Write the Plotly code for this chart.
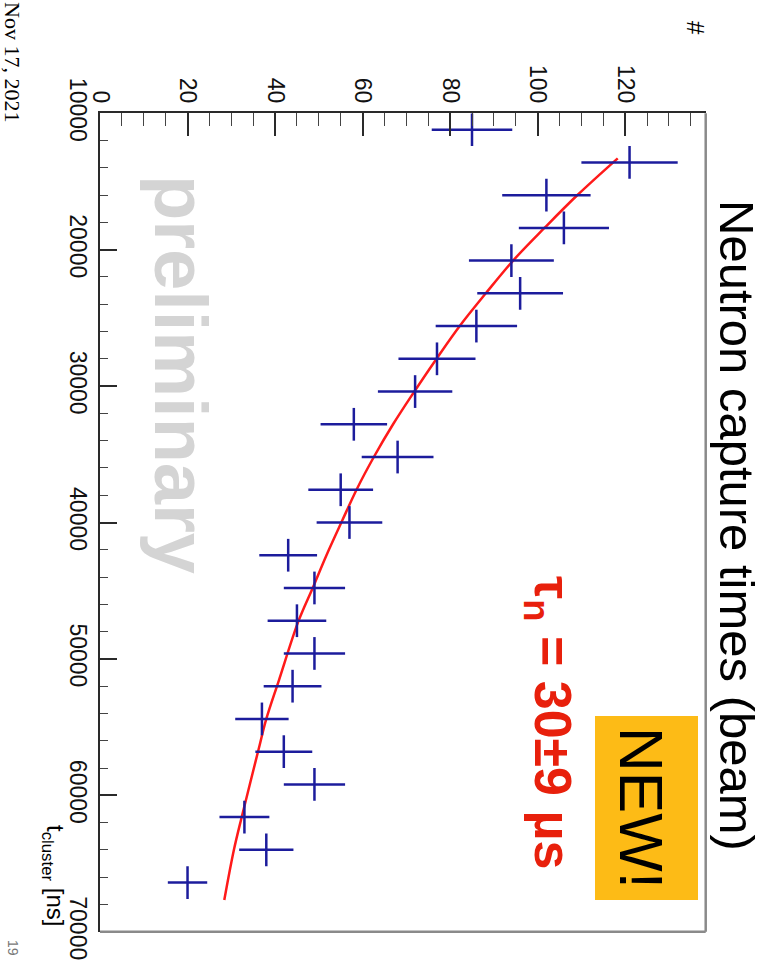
import plotly.graph_objects as go

# ---- data read from the (rotated) reference ----
t_cluster_ns = [11200, 13600, 16000, 18400, 20800, 23200, 25600, 28000, 30400, 32800,
                35200, 37600, 40000, 42400, 44800, 47200, 49600, 52000, 54400, 56800,
                59200, 61600, 64000, 66400]
counts = [85, 121, 102, 106, 94, 96, 86, 77, 72, 58, 68, 55, 57, 43, 49, 45, 49, 44, 37, 42,
          49, 33, 38, 20]
count_err = [9.2, 11.0, 10.1, 10.3, 9.7, 9.8, 9.3, 8.8, 8.5, 7.6, 8.2, 7.4, 7.5, 6.6, 7.0,
             6.7, 7.0, 6.6, 6.1, 6.5, 7.0, 5.7, 6.2, 4.5]
bin_half_width_ns = 1200

# points
fit_t_ns = [13300, 15990, 18390, 20760, 23180, 25590, 27990, 30410, 32780, 35180, 37540,
            39820, 42430, 44800, 47270, 51550, 54400, 56680, 61570, 64000, 67680]
fit_counts = [118.3, 109.1, 101.6, 94.5, 88.2, 82.2, 76.9, 71.8, 67.0, 62.6, 58.7, 55.4,
              51.7, 48.6, 45.3, 40.9, 38.0, 36.2, 32.4, 30.6, 28.4]

count_ticks = [0, 20, 40, 60, 80, 100, 120]
time_ticks = [10000, 20000, 30000, 40000, 50000, 60000, 70000]

W, H = 775, 972
SANS = "Liberation Sans, Arial, Helvetica, sans-serif"


def px(x):
    return x / W


def py(y):
    return 1 - y / H


fig = go.Figure()

fig.add_trace(go.Scatter(
    x=fit_counts, y=fit_t_ns, mode="lines",
    line=dict(color="#ff1a1a", width=2.5, shape="spline", smoothing=1.0),
    showlegend=False, hoverinfo="skip"))

fig.add_trace(go.Scatter(
    x=counts, y=t_cluster_ns, mode="markers",
    marker=dict(size=1, color="#1c1c9c"),
    error_x=dict(type="data", array=count_err, color="#1c1c9c", thickness=2.5, width=0),
    error_y=dict(type="constant", value=bin_half_width_ns, color="#1c1c9c", thickness=2.5, width=0),
    showlegend=False))

x0p, x1p = px(100), px(705.7)
y_top, y_bot = py(113.3), py(931.7)


def ann(text, x, y, size, color="#000", weight="normal", family=SANS):
    return dict(text=text, x=px(x), y=py(y), xref="paper", yref="paper",
                xanchor="center", yanchor="middle", showarrow=False, textangle=90,
                font=dict(family=family, size=size, color=color, weight=weight))


fig.update_layout(
    width=W, height=H,
    template="none",
    margin=dict(l=0, r=0, t=0, b=0, autoexpand=False),
    paper_bgcolor="white", plot_bgcolor="white",
    xaxis=dict(
        domain=[x0p, x1p], range=[0, 138.4], side="top", automargin=False,
        showline=True, linecolor="#2a2a2a", linewidth=2, mirror=False,
        ticks="inside", ticklen=23, tickwidth=1.5, tickcolor="#2a2a2a",
        tickvals=count_ticks, tickangle=90,
        tickfont=dict(family=SANS, size=23, color="#111"),
        minor=dict(dtick=5, tick0=0, ticks="inside", ticklen=13, tickwidth=1.2, tickcolor="#444"),
        showgrid=False, zeroline=False),
    yaxis=dict(
        domain=[y_bot, y_top], range=[70000, 10000], automargin=False,
        showline=True, linecolor="#2a2a2a", linewidth=2, mirror=False,
        ticks="inside", ticklen=17, tickwidth=1.5, tickcolor="#2a2a2a",
        tickvals=time_ticks, tickformat="d", tickangle=90,
        tickfont=dict(family=SANS, size=23, color="#111"),
        minor=dict(dtick=2000, tick0=0, ticks="inside", ticklen=8, tickwidth=1.2, tickcolor="#444"),
        showgrid=False, zeroline=False),
    shapes=[
        dict(type="line", xref="x domain", yref="y domain", x0=1, x1=1, y0=0, y1=1,
             line=dict(color="#8a8a8a", width=2.5)),
        dict(type="line", xref="x domain", yref="y domain", x0=0, x1=1, y0=0, y1=0,
             line=dict(color="#8a8a8a", width=2.5)),
        dict(type="rect", xref="paper", yref="paper", x0=px(595), x1=px(698),
             y0=py(900), y1=py(716), fillcolor="#FDBB16", line=dict(width=0), layer="above"),
    ],
    annotations=[
        ann("preliminary", 181, 374, 74, color="#d4d4d4", weight="bold"),
        ann("Neutron capture times (beam)", 737, 525, 49),
        ann("τ<sub>n</sub> = 30±9 µs", 549, 722, 52, color="#e8200c", weight="bold"),
        ann("NEW!", 642, 808, 62),
        ann("#", 695, 28, 24),
        ann("t<sub>cluster</sub> [ns]", 54, 876, 24),
        ann("19", 13, 948, 14, color="#777"),
        ann("Nov 17, 2021", 12, 62, 22, family="Liberation Serif, Times New Roman, serif"),
    ],
)

fig.write_html("out.html")
